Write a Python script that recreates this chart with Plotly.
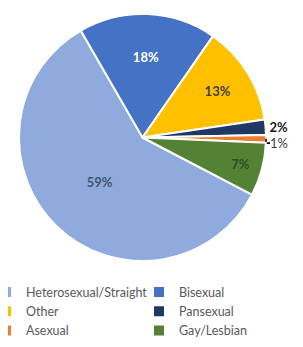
import plotly.graph_objects as go

labels = ["Heterosexual/Straight", "Bisexual", "Other", "Pansexual", "Asexual", "Gay/Lesbian"]
values = [59, 18, 13, 2, 1, 7]
colors = ["#8FAADC", "#4472C4", "#FFC000", "#203864", "#ED7D31", "#548235"]
text_colors = ["#44546A", "#FFFFFF", "#404040", "#1A1A1A", "#404040", "#2E4A1E"]
text_pos = ["inside", "inside", "inside", "outside", "outside", "inside"]
text_tpl = ["<b>%{percent:.0%}</b>"] * 6
text_tpl[4] = "%{percent:.0%}"

fig = go.Figure(go.Pie(
    labels=labels,
    values=values,
    sort=False,
    direction="clockwise",
    rotation=117.6,
    marker=dict(colors=colors, line=dict(color="white", width=2)),
    texttemplate=text_tpl,
    textposition=text_pos,
    insidetextorientation="horizontal",
    textfont=dict(family="Lato", size=13, color=text_colors),
    automargin=False,
    domain=dict(x=[0, 247 / 292], y=[0, 1]),
))

fig.update_layout(
    width=303, height=347,
    margin=dict(l=11, r=0, t=6, b=94, autoexpand=False),
    paper_bgcolor="white",
    plot_bgcolor="white",
    showlegend=True,
    legend=dict(
        orientation="h",
        x=-33 / 292, xanchor="left",
        y=-0.0668, yanchor="top",
        entrywidth=108,
        font=dict(family="Lato", size=12.5, color="#595959"),
        traceorder="normal",
    ),
)

fig.write_html("out.html")
